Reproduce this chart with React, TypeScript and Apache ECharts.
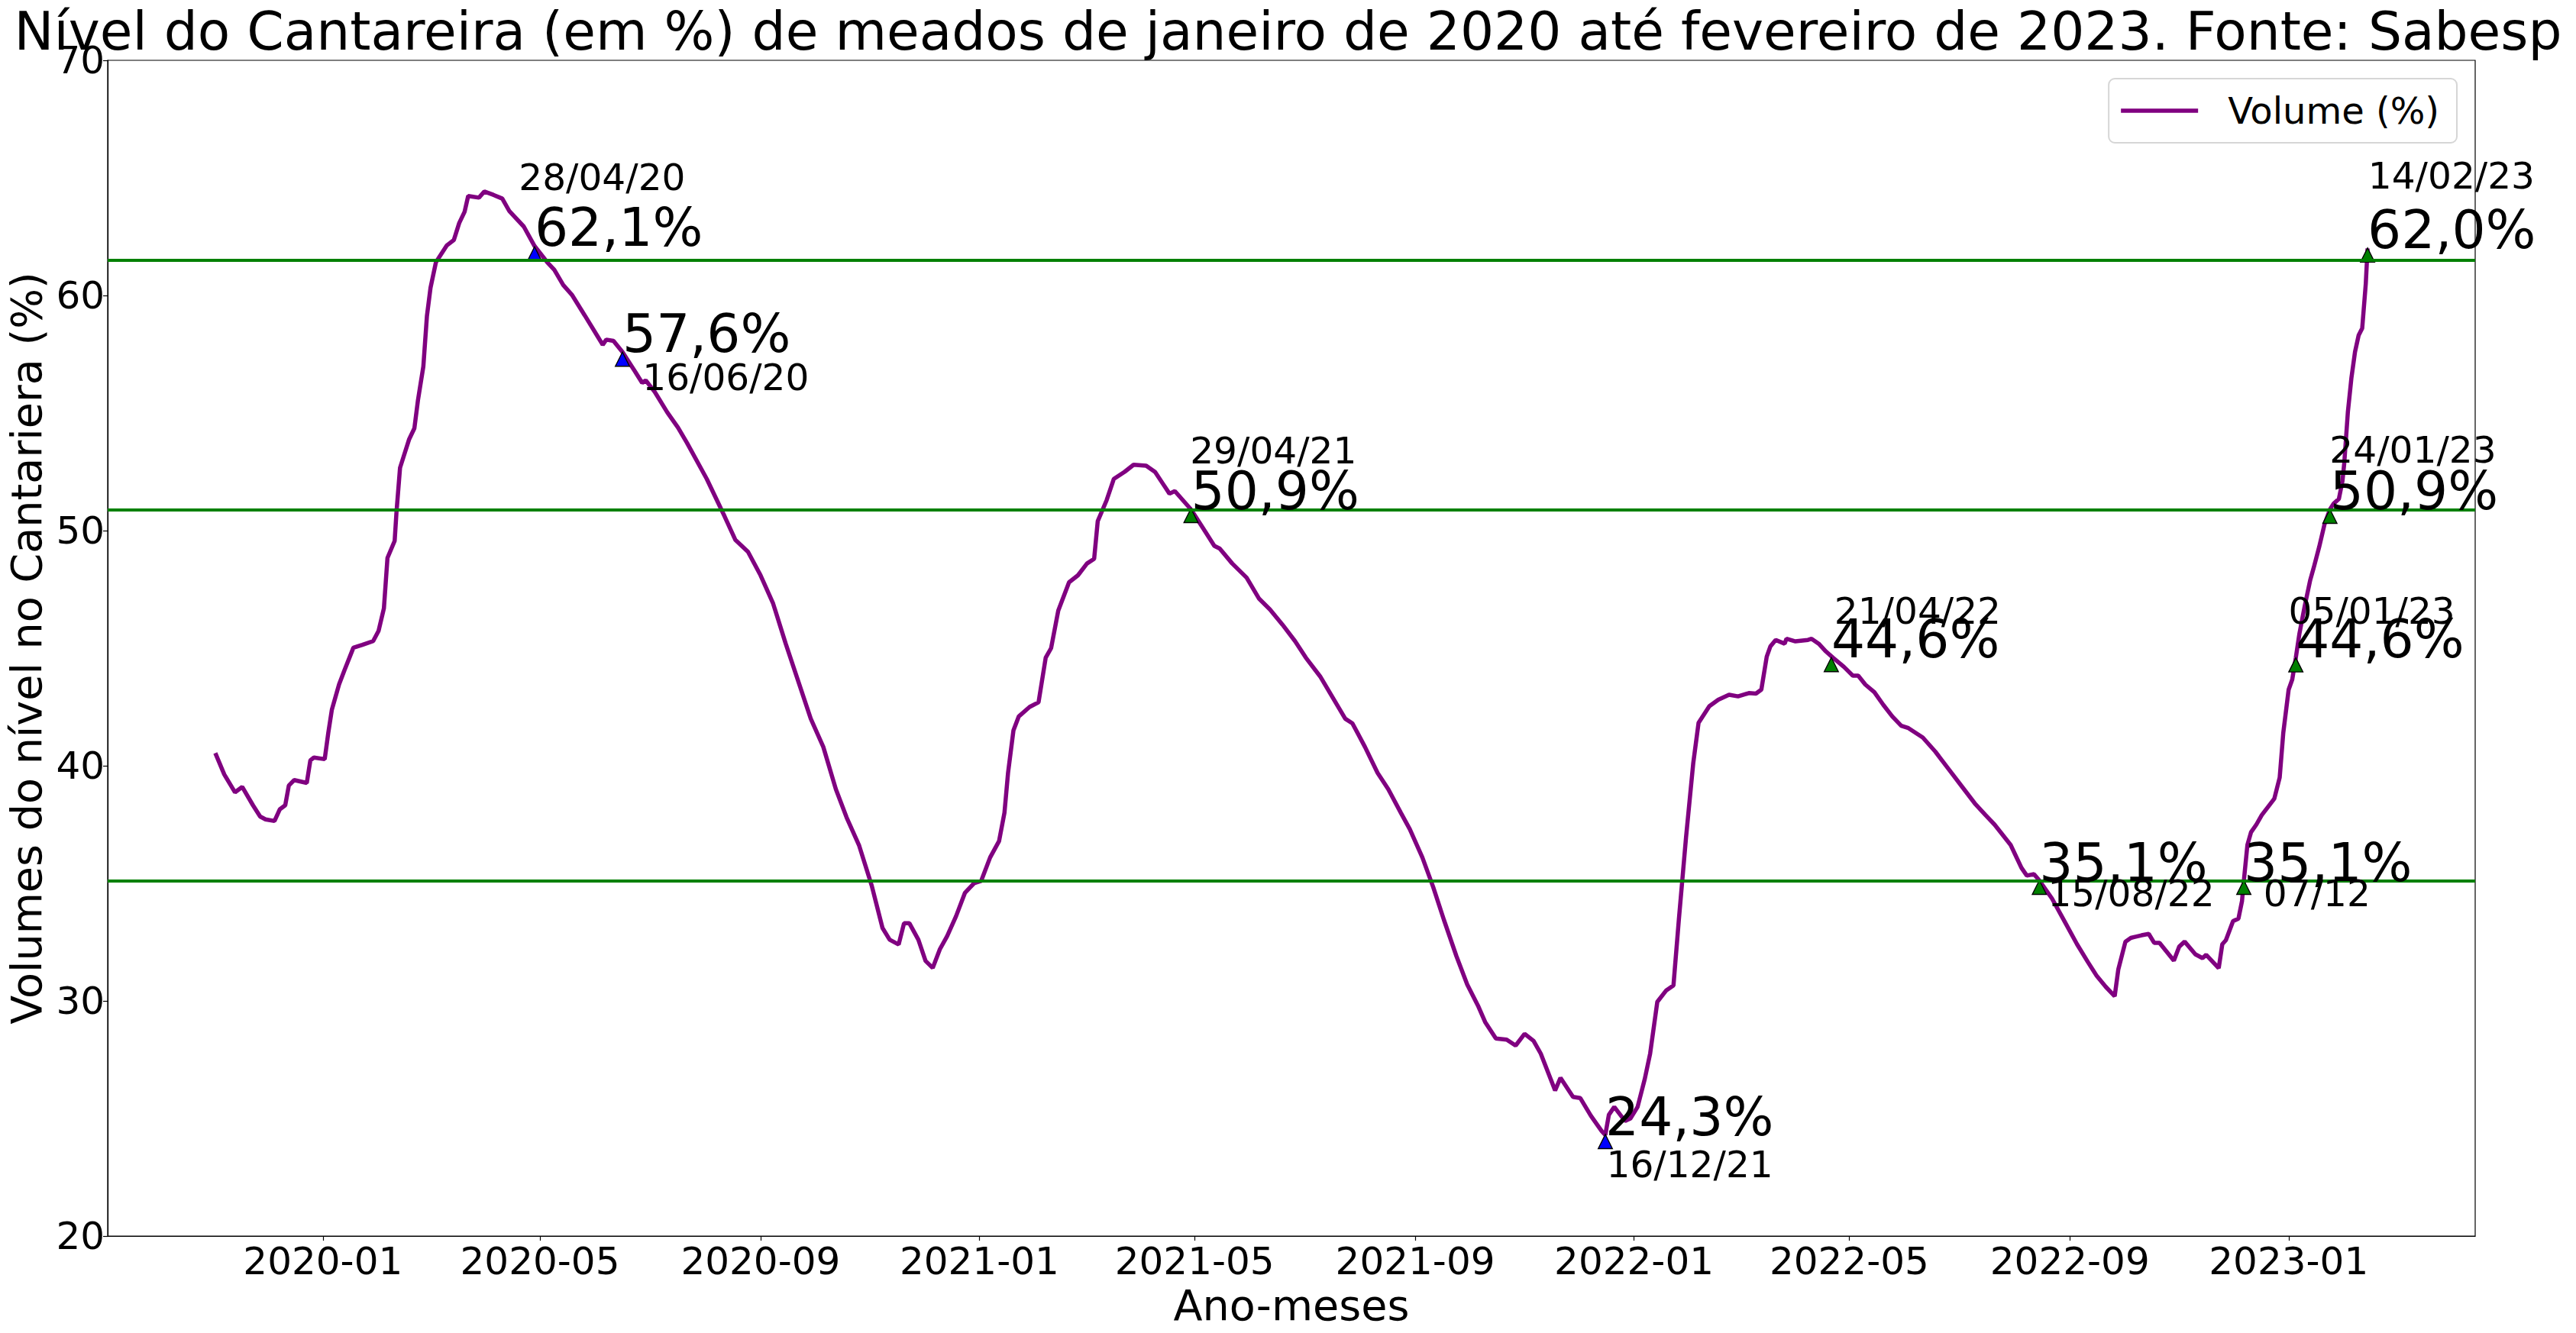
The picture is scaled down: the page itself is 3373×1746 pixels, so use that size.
import React, { useEffect, useRef } from "react";
import * as echarts from "echarts";

const FONT = "DejaVu Sans";

// ---- Data ----
const volDates = [
  "2019-11-02","2019-11-07","2019-11-13","2019-11-17","2019-11-23","2019-11-27","2019-11-30","2019-12-05","2019-12-08","2019-12-11",
  "2019-12-13","2019-12-16","2019-12-23","2019-12-25","2019-12-27","2020-01-02","2020-01-04","2020-01-06","2020-01-10","2020-01-13",
  "2020-01-18","2020-01-23","2020-01-29","2020-02-01","2020-02-04","2020-02-06","2020-02-10","2020-02-11","2020-02-13","2020-02-15",
  "2020-02-18","2020-02-21","2020-02-23","2020-02-26","2020-02-28","2020-03-01","2020-03-04","2020-03-10","2020-03-14","2020-03-17",
  "2020-03-20","2020-03-22","2020-03-28","2020-03-31","2020-04-05","2020-04-10","2020-04-14","2020-04-22","2020-04-28","2020-05-05",
  "2020-05-09","2020-05-14","2020-05-19","2020-05-26","2020-06-02","2020-06-05","2020-06-07","2020-06-11","2020-06-16","2020-06-23",
  "2020-06-27","2020-06-29","2020-07-04","2020-07-11","2020-07-17","2020-07-22","2020-08-02","2020-08-12","2020-08-18","2020-08-25",
  "2020-09-01","2020-09-08","2020-09-15","2020-09-22","2020-09-29","2020-10-06","2020-10-13","2020-10-19","2020-10-26","2020-11-02",
  "2020-11-08","2020-11-12","2020-11-17","2020-11-20","2020-11-23","2020-11-28","2020-12-02","2020-12-06","2020-12-10","2020-12-14",
  "2020-12-19","2020-12-24","2020-12-29","2021-01-02","2021-01-07","2021-01-12","2021-01-15","2021-01-17","2021-01-20","2021-01-23",
  "2021-01-29","2021-02-03","2021-02-07","2021-02-10","2021-02-14","2021-02-20","2021-02-25","2021-03-02","2021-03-06","2021-03-08",
  "2021-03-13","2021-03-17","2021-03-23","2021-03-28","2021-04-04","2021-04-09","2021-04-17","2021-04-20","2021-04-29","2021-05-07",
  "2021-05-12","2021-05-15","2021-05-22","2021-05-30","2021-06-06","2021-06-12","2021-06-19","2021-06-26","2021-07-02","2021-07-10",
  "2021-07-17","2021-07-24","2021-07-28","2021-08-04","2021-08-11","2021-08-17","2021-08-24","2021-08-29","2021-09-05","2021-09-11",
  "2021-09-17","2021-09-24","2021-09-30","2021-10-06","2021-10-10","2021-10-16","2021-10-22","2021-10-27","2021-11-01","2021-11-06",
  "2021-11-10","2021-11-18","2021-11-21","2021-11-28","2021-12-02","2021-12-08","2021-12-14","2021-12-16","2021-12-18","2021-12-21",
  "2021-12-27","2021-12-30","2022-01-03","2022-01-07","2022-01-10","2022-01-14","2022-01-19","2022-01-23","2022-01-26","2022-01-30",
  "2022-02-03","2022-02-06","2022-02-12","2022-02-17","2022-02-23","2022-02-28","2022-03-06","2022-03-10","2022-03-13","2022-03-16",
  "2022-03-18","2022-03-21","2022-03-26","2022-03-27","2022-04-01","2022-04-08","2022-04-10","2022-04-14","2022-04-18","2022-04-22",
  "2022-04-28","2022-05-03","2022-05-06","2022-05-10","2022-05-15","2022-05-20","2022-05-25","2022-05-30","2022-06-03","2022-06-11",
  "2022-06-18","2022-06-25","2022-07-03","2022-07-10","2022-07-16","2022-07-21","2022-07-30","2022-08-05","2022-08-08","2022-08-12",
  "2022-08-15","2022-08-22","2022-08-29","2022-09-05","2022-09-11","2022-09-16","2022-09-21","2022-09-26","2022-09-28","2022-10-02",
  "2022-10-05","2022-10-11","2022-10-15","2022-10-18","2022-10-21","2022-10-29","2022-11-01","2022-11-04","2022-11-10","2022-11-14",
  "2022-11-16","2022-11-23","2022-11-25","2022-11-27","2022-12-01","2022-12-04","2022-12-06","2022-12-07","2022-12-09","2022-12-11",
  "2022-12-14","2022-12-17","2022-12-21","2022-12-24","2022-12-27","2022-12-29","2023-01-01","2023-01-03","2023-01-05","2023-01-07",
  "2023-01-10","2023-01-13","2023-01-15","2023-01-18","2023-01-21","2023-01-24","2023-01-26","2023-01-29","2023-01-31","2023-02-01",
  "2023-02-02","2023-02-03","2023-02-05","2023-02-07","2023-02-09","2023-02-11","2023-02-13","2023-02-14"
];
const volValues = [
  40.54,39.63,38.87,39.10,38.32,37.84,37.72,37.65,38.15,38.32,
  39.16,39.39,39.27,40.23,40.35,40.28,41.40,42.39,43.46,44.06,
  45.02,45.14,45.30,45.73,46.69,48.84,49.56,50.76,52.67,53.15,
  53.87,54.35,55.55,56.98,59.13,60.33,61.41,62.12,62.36,63.08,
  63.56,64.23,64.16,64.42,64.28,64.12,63.58,62.93,62.10,61.42,
  61.09,60.44,60.01,59.15,58.28,57.90,58.12,58.07,57.60,56.77,
  56.28,56.39,55.90,55.03,54.38,53.73,52.20,50.60,49.60,49.10,
  48.10,46.90,45.20,43.60,42.00,40.80,39.00,37.80,36.60,34.90,
  33.10,32.60,32.40,33.30,33.30,32.60,31.70,31.40,32.20,32.75,
  33.60,34.60,35.00,35.10,36.10,36.80,38.00,39.70,41.50,42.10,
  42.50,42.70,44.60,45.00,46.60,47.80,48.10,48.60,48.80,50.40,
  51.30,52.20,52.50,52.80,52.76,52.49,51.57,51.68,50.90,49.95,
  49.35,49.24,48.60,48.00,47.10,46.65,46.00,45.30,44.60,43.80,
  42.90,42.00,41.80,40.80,39.70,39.00,38.00,37.30,36.10,34.85,
  33.45,31.90,30.70,29.80,29.10,28.40,28.35,28.10,28.60,28.30,
  27.76,26.19,26.73,25.92,25.87,25.11,24.46,24.30,25.16,25.49,
  24.89,25.00,25.49,26.68,27.76,29.96,30.45,30.66,33.45,36.95,
  40.09,41.83,42.53,42.81,43.02,42.95,43.09,43.07,43.24,44.64,
  45.07,45.35,45.19,45.40,45.29,45.35,45.40,45.19,44.86,44.59,
  44.21,43.83,43.83,43.45,43.13,42.59,42.10,41.70,41.60,41.20,
  40.60,39.90,39.10,38.40,37.90,37.50,36.63,35.66,35.33,35.39,
  35.12,34.36,33.39,32.41,31.66,31.06,30.60,30.20,31.33,32.52,
  32.68,32.79,32.85,32.47,32.47,31.71,32.31,32.52,31.98,31.82,
  31.96,31.39,32.41,32.58,33.39,33.50,34.25,35.10,36.63,37.17,
  37.50,37.90,38.30,38.60,39.50,41.40,43.24,43.67,44.60,45.62,
  46.81,47.89,48.43,49.30,50.27,50.90,51.14,51.35,52.11,52.87,
  53.95,55.03,56.50,57.60,58.30,58.60,60.50,62.00
];

// Reference horizontal levels (%)
const refLevels = [61.5, 50.9, 35.1];

// Annotated points
const annDates = ["2020-04-28","2020-06-16","2021-04-29","2021-12-16","2022-04-21","2022-08-15","2022-12-07","2023-01-05","2023-01-24","2023-02-14"];
const annValues = [62.1, 57.6, 50.9, 24.3, 44.6, 35.1, 35.1, 44.6, 50.9, 62.0];
const annMarkerValues = [61.77, 57.29, 50.64, 24.02, 44.30, 34.83, 34.83, 44.29, 50.61, 61.72];
const annPctLabels = ["62,1%","57,6%","50,9%","24,3%","44,6%","35,1%","35,1%","44,6%","50,9%","62,0%"];
const annDateLabels = ["28/04/20","16/06/20","29/04/21","16/12/21","21/04/22","15/08/22","07/12","05/01/23","24/01/23","14/02/23"];
const annMarkerKinds = ["min","min","max","min","max","max","max","max","max","max"];

// Axis ticks
const xTickLabels = ["2020-01","2020-05","2020-09","2021-01","2021-05","2021-09","2022-01","2022-05","2022-09","2023-01"];
const xRange = ["2019-09-03", "2023-04-15"];
const yMin = 20;
const yMax = 70;
const yStep = 10;

// ---- Layout / style (pixel offsets of the annotation date texts) ----
const dateTextOffsets = [
  [-20.7, -90.5], [26.2, 33.2], [-1.3, -77.5], [1.5, 38.6], [3.9, -61.2],
  [11.1, 16.5], [25.8, 16.5], [-9.6, -61.8], [-0.4, -78.5], [0.7, -95.2]
];
const markerColor: Record<string, string> = { min: "#0000ff", max: "#008000" };

function ts(s: string): number {
  const [y, m, d] = s.split("-").map(Number);
  return Date.UTC(y, m - 1, d || 1);
}

const textLabel = (text: string, pos: number[], size: number) => ({
  show: true,
  formatter: text,
  position: pos,
  align: "left",
  verticalAlign: "middle",
  fontFamily: FONT,
  fontSize: size,
  color: "#000000",
  opacity: 1,
  textBorderWidth: 0,
  textBorderColor: "transparent",
  textShadowBlur: 0,
});

export default function App() {
  const ref = useRef<HTMLDivElement>(null);

  useEffect(() => {
    if (!ref.current) return;
    const chart = echarts.init(ref.current, null, { renderer: "svg" });
    const tickTs = xTickLabels.map((l) => ts(l + "-01"));
    const lineData = volDates.map((d, i) => [ts(d), volValues[i]]);

    const option: any = {
      animation: false,
      backgroundColor: "#ffffff",
      title: {
        text: "Nível do Cantareira (em %) de meados de janeiro de 2020 até fevereiro de 2023. Fonte: Sabesp",
        left: "center",
        top: 6,
        padding: 0,
        textStyle: { fontFamily: FONT, fontSize: 69.4, fontWeight: "normal", color: "#000" },
      },
      legend: {
        data: [{ name: "Volume (%)", icon: "rect" }],
        right: 156,
        top: 103,
        padding: [18, 23, 18, 16],
        backgroundColor: "#ffffff",
        borderColor: "#d6d6d6",
        borderWidth: 2,
        borderRadius: 8,
        itemWidth: 101,
        itemHeight: 5.5,
        itemStyle: { color: "#800080", borderWidth: 0 },
        textStyle: { fontFamily: FONT, fontSize: 48, color: "#000", padding: [0, 0, 0, 34] },
      },
      grid: {
        left: 141,
        right: 132,
        top: 79,
        bottom: 127,
        show: true,
        borderColor: "#000",
        borderWidth: 1.2,
        backgroundColor: "transparent",
        outerBoundsMode: "none",
        containLabel: false,
      },
      xAxis: {
        type: "value",
        min: ts(xRange[0]),
        max: ts(xRange[1]),
        scale: true,
        splitLine: { show: false },
        axisLine: { show: true, lineStyle: { color: "#000", width: 1.2 } },
        axisTick: { show: true, customValues: tickTs, length: 6, lineStyle: { color: "#000", width: 1.2 } },
        axisLabel: {
          customValues: tickTs,
          fontFamily: FONT,
          fontSize: 50,
          color: "#000",
          margin: 8,
          formatter: (v: number) => {
            let best = -1;
            let bd = Infinity;
            tickTs.forEach((t, i) => {
              const dd = Math.abs(t - v);
              if (dd < bd) { bd = dd; best = i; }
            });
            return best >= 0 && bd < 86400000 * 2 ? xTickLabels[best] : "";
          },
        },
        name: "Ano-meses",
        nameLocation: "middle",
        nameGap: 60,
        nameTextStyle: { fontFamily: FONT, fontSize: 55.6, color: "#000" },
      },
      yAxis: {
        type: "value",
        min: yMin,
        max: yMax,
        interval: yStep,
        splitLine: { show: false },
        axisLine: { show: true, lineStyle: { color: "#000", width: 1.2 } },
        axisTick: { show: true, length: 6, lineStyle: { color: "#000", width: 1.2 } },
        axisLabel: { fontFamily: FONT, fontSize: 50, color: "#000", margin: 4 },
        name: "Volumes do nível no Cantariera (%)",
        nameLocation: "middle",
        nameGap: 66,
        nameRotate: 90,
        nameTextStyle: { fontFamily: FONT, fontSize: 55.6, color: "#000" },
      },
      series: [
        {
          name: "Volume (%)",
          type: "line",
          data: lineData,
          symbol: "none",
          showSymbol: false,
          silent: true,
          z: 2,
          lineStyle: { color: "#800080", width: 5.5 },
          itemStyle: { color: "#800080" },
        },
        {
          name: "levels",
          type: "line",
          data: [],
          silent: true,
          z: 3,
          markLine: {
            silent: true,
            symbol: ["none", "none"],
            label: { show: false },
            lineStyle: { color: "#008000", width: 4, type: "solid" },
            data: refLevels.map((v) => ({ yAxis: v })),
          },
        },
        {
          name: "markers",
          type: "scatter",
          silent: true,
          z: 4,
          symbol: "triangle",
          symbolSize: 18.5,
          data: annDates.map((d, i) => ({
            value: [ts(d), annMarkerValues[i]],
            itemStyle: { color: markerColor[annMarkerKinds[i]], borderColor: "#000", borderWidth: 1.4, opacity: 1 },
          })),
        },
        {
          name: "pctText",
          type: "scatter",
          silent: true,
          z: 5,
          symbol: "circle",
          symbolSize: 0.01,
          itemStyle: { color: "#ffffff", opacity: 1 },
          label: textLabel("", [0, -24], 69.4),
          data: annDates.map((d, i) => ({
            value: [ts(d), annValues[i]],
            label: textLabel(annPctLabels[i], [0, -24], 69.4),
          })),
        },
        {
          name: "dateText",
          type: "scatter",
          silent: true,
          z: 5,
          symbol: "circle",
          symbolSize: 0.01,
          itemStyle: { color: "#ffffff", opacity: 1 },
          label: textLabel("", [0, 0], 48.6),
          data: annDates.map((d, i) => ({
            value: [ts(d), annValues[i]],
            label: textLabel(annDateLabels[i], dateTextOffsets[i], 48.6),
          })),
        },
      ],
    };
    chart.setOption(option);
    return () => chart.dispose();
  }, []);

  return (
    <div
      ref={ref}
      style={{ position: "absolute", left: 0, top: 0, width: 3373, height: 1746, background: "#fff" }}
    />
  );
}
